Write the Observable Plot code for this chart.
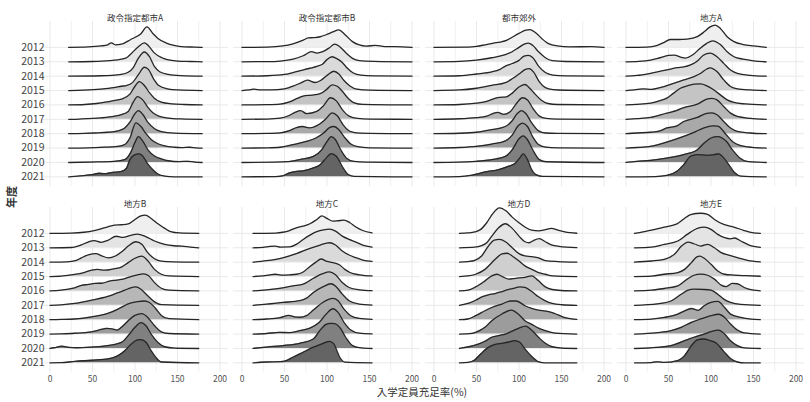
<!DOCTYPE html>
<html><head><meta charset="utf-8">
<script src="https://cdn.jsdelivr.net/npm/d3@7"></script>
<script src="https://cdn.jsdelivr.net/npm/@observablehq/plot@0.6"></script>
<style>
body{margin:0;background:#fff;}
#wrap{position:relative;width:810px;height:402px;overflow:hidden;font-family:'Noto Sans CJK JP','Noto Sans',sans-serif;background:#fff;}
#chart{position:absolute;left:0;top:0;}
#xtitle{position:absolute;left:0;width:844px;top:385px;text-align:center;font-size:10.5px;line-height:14px;color:#333;}
#ytitle{position:absolute;left:11px;top:197px;transform:translate(-50%,-50%) rotate(-90deg);font-size:11px;font-weight:bold;color:#333;white-space:nowrap;}
</style></head>
<body><div id="wrap"><div id="chart"></div><div id="xtitle">入学定員充足率(%)</div><div id="ytitle">年度</div></div>
<script>
// ---- data ----
const panelNames = ["政令指定都市A","政令指定都市B","都市郊外","地方A","地方B","地方C","地方D","地方E"];
const yearLabels = ["2012","2013","2014","2015","2016","2017","2018","2019","2020","2021"];
const xTicks = [0,50,100,150,200];
const xMinor = [25,75,125,175];

// each ridge: flat list of [x, height] knots, height in row units (one year step = 1)
const seireiA = [
 [22,0, 45,0.03, 60,0.1, 68,0.18, 72,0.32, 77,0.18, 84,0.22, 95,0.55, 107,0.95, 114,1.42, 121,0.97, 127,0.62, 137,0.3, 146,0.14, 158,0.04, 170,0.02, 179,0],
 [22,0, 50,0.02, 70,0.08, 84,0.18, 90,0.28, 96,0.6, 104,1.05, 111,1.32, 116,1.1, 123,0.6, 131,0.3, 138,0.15, 150,0.05, 165,0.02, 179,0],
 [22,0, 60,0.03, 84,0.13, 92,0.27, 98,0.6, 104,1.25, 111,1.68, 117,1.35, 123,0.66, 129,0.31, 139,0.13, 154,0.04, 179,0],
 [22,0, 40,0.03, 60,0.1, 75,0.2, 84,0.3, 90,0.35, 97,0.55, 104,1.1, 111,1.62, 116,1.45, 122,0.8, 128,0.35, 138,0.12, 150,0.04, 179,0],
 [22,0, 41,0.03, 55,0.1, 68,0.22, 80,0.35, 84,0.4, 94,0.75, 100,1.3, 105,1.62, 111,1.35, 117,0.85, 123,0.45, 131,0.2, 143,0.08, 158,0.03, 179,0],
 [22,0, 35,0.02, 60,0.1, 76,0.22, 84,0.33, 92,0.55, 98,1.2, 103,1.58, 109,1.35, 115,0.85, 121,0.45, 129,0.2, 139,0.09, 154,0.03, 179,0],
 [22,0, 40,0.02, 53,0.05, 68,0.1, 80,0.2, 88,0.4, 94,0.8, 100,1.4, 104,1.6, 109,1.35, 115,0.8, 123,0.35, 131,0.15, 146,0.04, 179,0],
 [22,0, 45,0.02, 60,0.05, 80,0.12, 88,0.25, 94,0.7, 101,1.75, 107,1.5, 113,1.0, 119,0.6, 127,0.3, 135,0.15, 146,0.06, 155,0.03, 164,0.06, 172,0.02, 179,0],
 [22,0, 49,0.03, 76,0.08, 88,0.2, 95,0.7, 100,1.4, 104,1.8, 109,1.5, 115,0.9, 123,0.45, 131,0.25, 139,0.12, 152,0.06, 162,0.08, 170,0.03, 179,0],
 [22,0, 33,0.05, 49,0.15, 58,0.25, 64,0.22, 72,0.3, 84,0.38, 90,0.6, 94,1.2, 100,1.55, 105,1.6, 109,1.45, 115,0.9, 121,0.5, 127,0.2, 135,0.05, 146,0, 179,0]
];
const seireiB = [
 [0,0, 30,0.02, 48,0.1, 60,0.25, 72,0.5, 78,0.66, 84,0.68, 92,0.74, 99,0.88, 107,1.08, 114,1.22, 121,0.9, 130,0.4, 138,0.17, 146,0.09, 157,0.14, 168,0.06, 180,0.06, 200,0],
 [0,0, 30,0.01, 45,0.05, 60,0.18, 72,0.42, 82,0.7, 88,0.6, 95,0.7, 103,0.98, 109,1.23, 115,1.05, 123,0.58, 130,0.24, 138,0.08, 155,0.03, 200,0],
 [0,0, 30,0.03, 50,0.12, 60,0.25, 70,0.4, 80,0.55, 88,0.68, 95,0.85, 100,1.15, 106,1.35, 112,1.2, 118,0.95, 124,0.55, 131,0.22, 140,0.07, 155,0.02, 200,0],
 [0,0, 8,0.04, 14,0.1, 22,0.04, 35,0.04, 50,0.12, 62,0.35, 70,0.55, 77,0.72, 86,0.56, 93,0.72, 100,1.05, 108,1.34, 114,1.15, 120,0.7, 127,0.32, 135,0.1, 150,0.03, 200,0],
 [0,0, 30,0.02, 45,0.06, 55,0.2, 65,0.45, 72,0.62, 82,0.68, 92,0.78, 100,1.1, 106,1.4, 112,1.3, 118,0.95, 125,0.45, 132,0.15, 142,0.04, 200,0],
 [0,0, 30,0.02, 45,0.08, 55,0.25, 63,0.5, 69,0.6, 76,0.4, 88,0.55, 96,0.95, 104,1.5, 111,1.28, 118,0.68, 126,0.22, 136,0.06, 150,0.02, 200,0],
 [0,0, 30,0.02, 45,0.06, 55,0.2, 64,0.42, 71,0.5, 79,0.4, 90,0.62, 99,1.05, 106,1.45, 112,1.25, 119,0.62, 127,0.17, 138,0.04, 200,0],
 [0,0, 30,0.02, 45,0.06, 60,0.24, 75,0.45, 87,0.7, 96,1.05, 103,1.42, 108,1.5, 114,1.28, 120,0.8, 128,0.28, 136,0.1, 150,0.02, 200,0],
 [0,0, 40,0.02, 55,0.06, 68,0.2, 84,0.42, 94,0.9, 100,1.45, 105,1.8, 110,1.58, 116,0.9, 123,0.3, 132,0.07, 145,0.02, 200,0],
 [0,0, 40,0.02, 48,0.07, 56,0.28, 64,0.38, 72,0.42, 84,0.62, 92,0.85, 99,1.3, 105,1.62, 111,1.43, 119,0.62, 125,0.16, 132,0.03, 200,0]
];
const toshiKogai = [
 [0,0, 40,0.02, 50,0.07, 60,0.18, 70,0.3, 78,0.37, 86,0.5, 93,0.74, 100,0.97, 107,1.18, 113,1.24, 120,1.0, 127,0.6, 134,0.28, 145,0.1, 160,0.04, 185,0.05, 200,0],
 [0,0, 30,0.03, 50,0.12, 68,0.28, 84,0.5, 92,0.7, 100,1.0, 107,1.25, 111,1.3, 116,1.15, 123,0.7, 131,0.28, 139,0.08, 155,0.02, 200,0],
 [0,0, 30,0.03, 50,0.15, 68,0.3, 77,0.45, 84,0.7, 92,0.88, 100,1.1, 106,1.4, 111,1.45, 116,1.3, 123,0.7, 131,0.25, 140,0.07, 155,0.02, 200,0],
 [0,0, 30,0.04, 50,0.16, 68,0.36, 84,0.55, 92,0.82, 100,1.15, 107,1.45, 112,1.52, 117,1.3, 124,0.6, 131,0.2, 140,0.06, 155,0.02, 200,0],
 [0,0, 30,0.03, 50,0.12, 62,0.24, 70,0.42, 77,0.52, 85,0.56, 92,0.82, 100,1.25, 107,1.42, 112,1.2, 119,0.75, 126,0.35, 134,0.1, 145,0.03, 200,0],
 [0,0, 30,0.04, 50,0.12, 62,0.22, 70,0.42, 75,0.48, 82,0.35, 90,0.55, 97,1.1, 104,1.5, 110,1.35, 117,0.7, 124,0.22, 132,0.06, 145,0.02, 200,0],
 [0,0, 30,0.03, 50,0.1, 68,0.28, 84,0.5, 92,0.9, 98,1.4, 103,1.6, 108,1.4, 115,0.75, 123,0.2, 131,0.05, 145,0.02, 200,0],
 [0,0, 30,0.04, 50,0.12, 68,0.28, 84,0.5, 92,0.9, 99,1.55, 104,1.74, 110,1.5, 116,0.8, 123,0.25, 131,0.07, 145,0.02, 200,0],
 [0,0, 30,0.02, 50,0.08, 68,0.2, 84,0.42, 92,0.88, 100,1.65, 105,1.85, 110,1.58, 116,0.9, 124,0.2, 132,0.05, 200,0],
 [0,0, 30,0.02, 45,0.12, 61,0.35, 76,0.5, 88,0.74, 96,0.97, 101,1.32, 105,1.6, 110,1.2, 114,0.62, 120,0.16, 128,0.03, 200,0]
];
const chihoA = [
 [0,0, 25,0.02, 36,0.12, 45,0.35, 52,0.55, 62,0.55, 72,0.58, 84,0.75, 92,1.08, 99,1.43, 105,1.55, 111,1.32, 119,0.74, 127,0.4, 138,0.2, 150,0.1, 165,0],
 [0,0, 15,0.03, 29,0.12, 40,0.28, 50,0.44, 57,0.46, 64,0.33, 70,0.26, 79,0.5, 87,0.93, 95,1.28, 102,1.46, 111,1.2, 119,0.7, 127,0.35, 138,0.18, 150,0.07, 165,0],
 [0,0, 13,0.05, 29,0.2, 48,0.43, 60,0.59, 68,0.64, 76,0.78, 84,1.05, 91,1.45, 99,1.6, 107,1.35, 115,0.89, 123,0.43, 131,0.2, 146,0.06, 165,0],
 [0,0, 10,0.05, 20,0.12, 30,0.08, 40,0.2, 56,0.5, 68,0.74, 80,0.97, 88,1.2, 95,1.5, 99,1.58, 107,1.32, 115,0.74, 123,0.28, 131,0.12, 146,0.04, 165,0],
 [0,0, 13,0.04, 29,0.12, 40,0.3, 48,0.47, 56,0.82, 64,1.16, 72,1.32, 80,1.44, 88,1.46, 95,1.32, 103,1.05, 111,0.7, 119,0.35, 127,0.17, 140,0.07, 165,0],
 [0,0, 13,0.05, 29,0.13, 48,0.43, 60,0.62, 68,0.82, 84,1.05, 95,1.4, 101,1.45, 107,1.35, 115,0.89, 123,0.43, 131,0.2, 146,0.07, 165,0],
 [0,0, 13,0.05, 29,0.1, 40,0.2, 48,0.4, 60,0.55, 68,0.85, 84,1.13, 95,1.42, 101,1.45, 107,1.32, 115,0.85, 123,0.39, 131,0.16, 146,0.05, 165,0],
 [0,0, 13,0.04, 29,0.12, 48,0.42, 68,0.82, 80,1.09, 91,1.39, 102,1.55, 108,1.52, 118,0.93, 126,0.42, 134,0.19, 148,0.05, 165,0],
 [0,0, 13,0.08, 29,0.15, 48,0.31, 68,0.55, 84,0.89, 92,1.35, 100,1.7, 108,1.8, 118,1.47, 126,0.82, 134,0.31, 142,0.08, 155,0.02, 165,0],
 [0,0, 35,0.02, 48,0.1, 60,0.39, 68,0.85, 76,1.43, 84,1.55, 95,1.5, 104,1.55, 109,1.6, 115,1.32, 123,0.67, 128,0.28, 135,0.05, 165,0]
];
const chihoB = [
 [0,0, 25,0.02, 40,0.08, 52,0.2, 60,0.32, 68,0.46, 76,0.57, 84,0.6, 92,0.66, 100,0.97, 107,1.22, 112,1.27, 119,1.04, 127,0.67, 135,0.35, 142,0.12, 152,0.03, 175,0],
 [0,0, 25,0.02, 37,0.2, 45,0.4, 52,0.5, 60,0.38, 68,0.52, 78,0.8, 86,0.72, 94,0.85, 103,0.95, 112,0.8, 123,0.47, 135,0.24, 146,0.14, 155,0.11, 165,0.05, 175,0],
 [0,0, 20,0.02, 30,0.1, 37,0.3, 45,0.5, 54,0.6, 61,0.43, 69,0.3, 77,0.43, 84,0.7, 92,1.12, 101,1.42, 108,1.24, 115,0.66, 123,0.24, 131,0.07, 145,0.02, 175,0],
 [0,0, 13,0.03, 29,0.15, 40,0.28, 49,0.44, 56,0.5, 64,0.44, 76,0.55, 84,0.66, 92,0.97, 100,1.27, 108,1.42, 115,1.1, 123,0.5, 131,0.16, 140,0.04, 175,0],
 [0,0, 13,0.05, 29,0.22, 37,0.38, 45,0.45, 53,0.52, 62,0.55, 70,0.68, 78,0.75, 86,0.82, 95,1.0, 103,1.12, 110,1.18, 116,1.05, 123,0.58, 131,0.19, 140,0.05, 175,0],
 [0,0, 13,0.03, 29,0.13, 49,0.36, 68,0.62, 80,0.88, 88,1.05, 95,1.22, 101,1.28, 107,1.12, 115,0.66, 123,0.24, 131,0.05, 175,0],
 [0,0, 13,0.02, 29,0.05, 49,0.2, 68,0.44, 80,0.74, 92,1.1, 103,1.25, 111,1.3, 117,1.2, 124,0.8, 131,0.3, 140,0.07, 175,0],
 [0,0, 13,0.02, 29,0.06, 49,0.16, 60,0.32, 67,0.4, 73,0.36, 79,0.28, 84,0.47, 92,0.93, 100,1.3, 108,1.42, 115,1.16, 123,0.58, 131,0.16, 140,0.04, 175,0],
 [0,0, 5,0.05, 14,0.16, 22,0.08, 30,0.05, 49,0.1, 68,0.2, 84,0.42, 92,0.89, 100,1.47, 107,1.8, 113,1.58, 119,1.0, 127,0.42, 135,0.12, 146,0.03, 175,0],
 [0,0, 13,0.01, 29,0.1, 49,0.18, 68,0.27, 80,0.5, 88,0.85, 96,1.32, 103,1.6, 107,1.62, 113,1.43, 119,0.85, 125,0.35, 131,0.06, 175,0]
];
const chihoC = [
 [13,0, 40,0.02, 48,0.08, 56,0.2, 64,0.39, 72,0.5, 80,0.67, 88,0.97, 94,1.22, 100,1.04, 107,0.85, 113,0.88, 120,0.92, 127,0.74, 134,0.44, 142,0.2, 153,0.03],
 [13,0, 25,0.03, 33,0.1, 39,0.12, 45,0.05, 56,0.06, 64,0.24, 72,0.58, 80,0.88, 88,1.12, 96,1.25, 103,1.3, 110,1.16, 118,0.81, 126,0.58, 134,0.4, 142,0.19, 153,0.05],
 [13,0, 29,0.1, 48,0.3, 64,0.59, 80,0.96, 92,1.19, 103,1.35, 110,1.19, 118,0.78, 126,0.5, 134,0.31, 142,0.15, 153,0.05],
 [13,0, 25,0.05, 33,0.12, 39,0.16, 46,0.1, 56,0.12, 64,0.16, 71,0.28, 80,0.7, 87,1.0, 93,1.22, 100,1.05, 107,0.97, 115,0.8, 121,0.5, 127,0.28, 138,0.12, 153,0.04],
 [13,0, 29,0.08, 48,0.22, 60,0.35, 72,0.47, 84,0.88, 95,1.2, 103,1.32, 110,1.12, 118,0.58, 126,0.24, 138,0.08, 153,0.02],
 [13,0, 29,0.08, 48,0.2, 68,0.32, 76,0.5, 84,0.89, 95,1.28, 105,1.5, 111,1.28, 118,0.78, 126,0.32, 138,0.08, 153,0.02],
 [13,0, 29,0.05, 45,0.15, 55,0.3, 62,0.2, 68,0.17, 76,0.28, 84,0.67, 95,1.2, 107,1.48, 113,1.32, 120,0.74, 128,0.28, 138,0.09, 153,0.02],
 [13,0, 29,0.04, 44,0.12, 56,0.1, 68,0.24, 80,0.42, 91,0.82, 99,1.39, 107,1.76, 113,1.51, 120,0.82, 128,0.28, 138,0.06, 153,0.01],
 [13,0, 29,0.1, 48,0.2, 68,0.36, 84,0.66, 92,1.28, 99,1.68, 104,1.75, 109,1.72, 115,1.47, 122,0.78, 130,0.2, 140,0.04, 153,0],
 [13,0, 29,0.06, 45,0.08, 50,0.12, 60,0.39, 72,0.74, 84,1.09, 92,1.27, 103,1.5, 108,1.32, 115,0.39, 121,0.05, 153,0]
];
const chihoD = [
 [30,0, 40,0.03, 48,0.1, 55,0.28, 62,0.74, 69,1.36, 77,1.78, 85,1.55, 92,1.13, 100,0.74, 107,0.44, 115,0.22, 123,0.18, 131,0.26, 138,0.35, 146,0.22, 154,0.1, 168,0.01],
 [30,0, 48,0.04, 56,0.15, 62,0.35, 68,0.81, 76,1.39, 84,1.67, 92,1.35, 100,0.81, 107,0.42, 112,0.35, 117,0.5, 124,0.63, 131,0.42, 139,0.19, 147,0.1, 168,0.01],
 [30,0, 40,0.04, 48,0.13, 56,0.43, 64,1.12, 71,1.54, 77,1.58, 84,1.42, 92,1.0, 100,0.59, 107,0.43, 115,0.38, 123,0.3, 131,0.1, 146,0.04, 168,0],
 [30,0, 40,0.04, 49,0.16, 60,0.5, 72,1.2, 80,1.58, 86,1.62, 92,1.43, 100,1.08, 107,0.74, 115,0.5, 123,0.28, 131,0.16, 139,0.05, 168,0],
 [30,0, 40,0.05, 49,0.28, 60,0.7, 68,1.05, 74,1.16, 81,0.98, 88,0.82, 96,0.88, 107,0.95, 115,1.05, 123,0.7, 131,0.28, 139,0.1, 150,0.03, 168,0],
 [30,0, 41,0.15, 49,0.35, 57,0.6, 64,0.73, 72,0.82, 80,0.96, 88,1.1, 96,1.22, 101,1.28, 107,1.24, 115,0.96, 123,0.59, 131,0.31, 139,0.13, 150,0.04, 168,0],
 [30,0, 40,0.05, 49,0.28, 60,0.62, 68,0.85, 80,1.09, 90,1.3, 97,1.3, 107,0.97, 115,0.78, 123,0.66, 131,0.6, 139,0.5, 146,0.33, 154,0.15, 168,0.02],
 [30,0, 45,0.05, 49,0.12, 60,0.47, 68,0.93, 80,1.4, 91,1.67, 99,1.4, 107,0.93, 115,0.68, 123,0.42, 131,0.24, 142,0.07, 168,0],
 [30,0, 41,0.12, 52,0.3, 60,0.5, 68,0.78, 76,0.89, 84,1.0, 92,1.2, 100,1.42, 108,1.55, 115,1.26, 123,0.78, 131,0.36, 139,0.12, 150,0.03, 168,0],
 [30,0, 40,0.03, 47,0.16, 55,0.62, 63,1.04, 71,1.27, 80,1.36, 88,1.45, 95,1.55, 101,1.43, 107,0.97, 115,0.44, 123,0.07, 131,0, 168,0]
];
const chihoE = [
 [10,0, 20,0.1, 30,0.23, 45,0.44, 60,0.66, 68,1.0, 76,1.3, 88,1.4, 96,1.32, 104,0.97, 115,0.62, 127,0.44, 139,0.2, 150,0.04, 158,0],
 [10,0, 30,0.05, 45,0.24, 61,0.47, 72,0.93, 84,1.35, 92,1.44, 100,1.28, 108,0.93, 116,0.7, 123,0.62, 128,0.68, 135,0.47, 145,0.19, 158,0.03],
 [10,0, 30,0.08, 45,0.2, 57,0.55, 65,1.1, 73,1.4, 80,1.28, 88,1.12, 96,1.24, 104,1.0, 112,0.66, 120,0.5, 131,0.31, 143,0.13, 158,0.02],
 [10,0, 30,0.03, 45,0.16, 61,0.28, 69,0.5, 77,0.97, 83,1.35, 87,1.42, 92,1.27, 100,0.85, 108,0.39, 116,0.16, 127,0.1, 140,0.06, 158,0.02],
 [10,0, 30,0.05, 45,0.17, 61,0.35, 72,0.82, 80,1.09, 88,1.17, 96,1.09, 104,0.82, 112,0.4, 118,0.3, 125,0.52, 131,0.5, 139,0.24, 150,0.05, 158,0.01],
 [10,0, 37,0.1, 53,0.3, 65,0.77, 73,1.05, 80,1.12, 92,1.1, 100,1.05, 108,0.77, 115,0.43, 123,0.2, 135,0.06, 158,0],
 [10,0, 30,0.04, 45,0.16, 61,0.39, 69,0.62, 77,0.78, 85,0.65, 92,0.97, 100,1.2, 108,1.27, 116,0.85, 123,0.39, 135,0.16, 147,0.04, 158,0],
 [10,0, 37,0.1, 53,0.24, 65,0.47, 77,0.82, 88,1.05, 100,1.28, 109,1.38, 116,1.16, 123,0.7, 131,0.28, 139,0.08, 158,0],
 [10,0, 37,0.08, 53,0.2, 69,0.54, 80,0.78, 92,1.0, 100,1.17, 109,1.28, 116,1.0, 123,0.54, 131,0.2, 139,0.04, 158,0],
 [10,0, 30,0.02, 37,0.07, 45,0.03, 61,0.16, 69,0.5, 77,1.2, 84,1.6, 91,1.66, 99,1.55, 106,1.38, 115,0.8, 123,0.3, 131,0.06, 140,0, 158,0]
];
const panelCurves = [seireiA, seireiB, toshiKogai, chihoA, chihoB, chihoC, chihoD, chihoE];

// ---- build table ----
const nYears = yearLabels.length;
const rows = [];
panelCurves.forEach((curves, k) => {
  curves.forEach((knots, i) => {
    for (let j = 0; j < knots.length; j += 2) {
      rows.push({col: k % 4, row: Math.floor(k / 4), year: +yearLabels[i], yi: i,
                 x: knots[j], base: nYears - 1 - i, top: nYears - 1 - i + knots[j + 1]});
    }
  });
});
const panels = panelNames.map((name, k) => ({name, col: k % 4, row: Math.floor(k / 4)}));
const yTicks = yearLabels.map((_, i) => nYears - 1 - i);

const marks = [
  Plot.ruleX(xMinor, {stroke: "#eeeeee", strokeWidth: 0.8}),
  Plot.ruleX(xTicks, {stroke: "#e6e6e6", strokeWidth: 0.9}),
  Plot.ruleY(yTicks, {stroke: "#e6e6e6", strokeWidth: 0.9})
];
yearLabels.forEach((_, i) => {
  const d = rows.filter(r => r.yi === i);
  marks.push(Plot.areaY(d, {x: "x", y1: "base", y2: "top", fx: "col", fy: "row", fill: "year", curve: "monotone-x"}));
  marks.push(Plot.lineY(d, {x: "x", y: "top", fx: "col", fy: "row", stroke: "#262626", strokeWidth: 1.3, curve: "monotone-x"}));
});
marks.push(Plot.text(panels, {fx: "col", fy: "row", text: "name", frameAnchor: "top", dy: -6.5, fontSize: 8.5, fill: "#333"}));
marks.push(Plot.axisY({ticks: yTicks, tickFormat: v => yearLabels[nYears - 1 - v], tickSize: 0, tickPadding: -3, fontSize: 10.5, color: "#444", label: null}));
marks.push(Plot.axisX({ticks: xTicks, tickSize: 0, tickPadding: 3, fontSize: 8.5, color: "#555", label: null}));

const chart = Plot.plot({
  width: 810, height: 402,
  marginLeft: 40, marginRight: 5, marginTop: 20.5, marginBottom: 29.5,
  style: {fontFamily: "'Noto Sans CJK JP','Noto Sans',sans-serif", background: "#fff"},
  x: {domain: [-10, 210]},
  y: {domain: [-0.67, 10.8]},
  fx: {domain: [0, 1, 2, 3], paddingInner: 0.025, paddingOuter: 0, axis: null},
  fy: {domain: [0, 1], paddingInner: 0.112, paddingOuter: 0, axis: null},
  color: {type: "linear", domain: [2012, 2016, 2019, 2021], range: ["#efefef", "#c4c4c4", "#9c9c9c", "#646464"]},
  marks
});
document.getElementById("chart").appendChild(chart);
</script></body></html>
